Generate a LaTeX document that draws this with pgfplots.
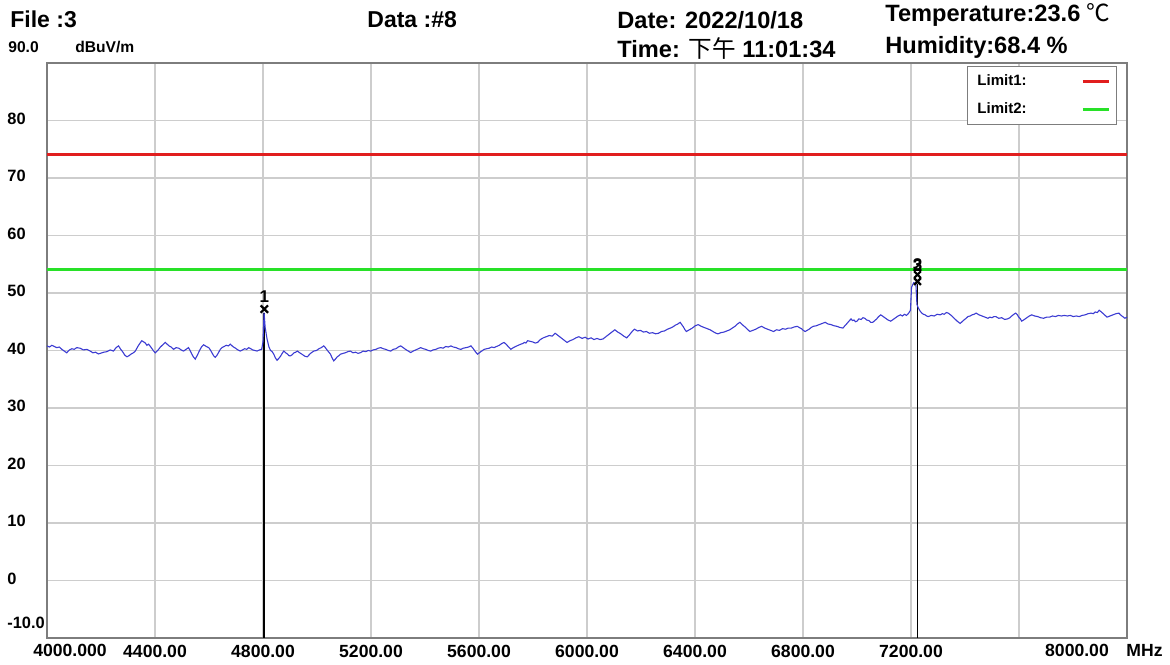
\documentclass[border=0pt]{standalone}
\usepackage{pgfplots}
\pgfplotsset{compat=1.18}
\usepackage{fontspec}
\setmainfont{Liberation Sans}
\newfontfamily\cjk{Noto Sans CJK SC}
\definecolor{trace}{RGB}{60,60,210}
\definecolor{limred}{RGB}{225,30,30}
\definecolor{limgreen}{RGB}{40,225,40}
\definecolor{gridgray}{RGB}{205,205,205}
\definecolor{framegray}{RGB}{125,125,125}
\begin{document}
\begin{tikzpicture}
\path[use as bounding box] (0,0) rectangle (585pt,332pt);
\begin{axis}[
  at={(23.5pt,13pt)}, anchor=south west,
  scale only axis, width=540pt, height=287.5pt,
  xmin=4000, xmax=8000, ymin=-10, ymax=90,
  clip=false,
  xtick={4400,4800,5200,5600,6000,6400,6800,7200,7600},
  xticklabels={4400.00,4800.00,5200.00,5600.00,6000.00,6400.00,6800.00,7200.00,{}},
  ytick={0,10,20,30,40,50,60,70,80},
  yticklabels={0,10,20,30,40,50,60,70,80},
  major tick length=0pt,
  grid=major,
  major grid style={gridgray, line width=0.7pt},
  axis line style={framegray, line width=1pt},
  xticklabel style={font=\bfseries\fontsize{8.8}{10}\selectfont, inner sep=0pt, yshift=-3.5pt},
  yticklabel style={font=\bfseries\fontsize{8.2}{10}\selectfont, inner sep=0pt, anchor=west, xshift=-20pt, yshift=1pt},
  legend plot pos=right,
  legend cell align=left,
  legend image code/.code={\draw[#1] (0pt,0pt) -- (13pt,0pt);},
  legend style={at={(0.9907,0.9948)}, anchor=north east, draw=framegray, line width=0.5pt, fill=white,
    font=\bfseries\fontsize{7.5}{9}\selectfont, inner xsep=3pt, inner ysep=2pt, row sep=3pt,
    nodes={inner sep=2pt}},
]
\addplot[limred, line width=1.5pt] coordinates {(4000,74) (8000,74)};
\addlegendentry{\makebox[50pt][l]{Limit1:}}
\addplot[limgreen, line width=1.5pt] coordinates {(4000,54) (8000,54)};
\addlegendentry{\makebox[50pt][l]{Limit2:}}
% marker verticals
\addplot[black, line width=0.9pt, forget plot] coordinates {(4805,46.5) (4805,-10)};
\addplot[black, line width=0.9pt, forget plot] coordinates {(7224,51.5) (7224,-10)};
% trace
\addplot[trace, line width=0.55pt, forget plot] coordinates {
(4000,40.8) (4009,40.6) (4018,40.9) (4027,40.7) (4036,40.5) (4046,40.6) (4055,40.2) (4064,39.9) (4073,39.6) (4083,40.1) (4092,40.3) (4101,40.2) (4110,40.5) (4122,40.4) (4135,40.1)
(4148,40.2) (4160,39.9) (4170,39.6) (4180,39.7) (4190,39.4) (4197,39.5) (4210,39.7) (4222,39.8) (4234,40.1) (4246,39.9) (4256,40.5) (4265,40.8) (4273,40.2) (4280,39.8) (4288,39.2) (4296,38.9)
(4304,39.1) (4312,39.4) (4320,39.6) (4327,39.9) (4339,40.9) (4351,41.7) (4358,41.5) (4364,41.3) (4370,40.9) (4376,41.1) (4383,40.7) (4389,40.3) (4395,39.9) (4401,39.6) (4410,40.0) (4420,40.6)
(4429,41.0) (4438,41.4) (4445,41.1) (4452,40.8) (4460,40.6) (4469,40.2) (4478,40.5) (4488,40.4) (4497,40.1) (4506,39.9) (4515,40.2) (4524,40.5) (4530,40.0) (4536,39.4) (4542,38.9) (4549,38.5)
(4557,39.2) (4565,40.0) (4572,40.6) (4580,41.0) (4590,40.7) (4599,40.5) (4605,40.1) (4611,39.6) (4617,39.1) (4623,38.8) (4630,39.2) (4636,39.7) (4642,40.2) (4648,40.5) (4656,40.7) (4664,40.9)
(4672,40.8) (4679,41.1) (4688,40.7) (4698,40.4) (4707,40.1) (4716,39.9) (4724,40.1) (4732,40.3) (4740,40.2) (4747,40.5) (4755,40.3) (4762,40.1) (4770,40.0) (4778,39.9) (4787,40.1) (4795,40.2)
(4800,41.5) (4804,46.6) (4808,44.0) (4815,42.0) (4822,40.6) (4828,40.0) (4834,39.8) (4840,39.35) (4846,38.7) (4852,38.3) (4858,38.6) (4865,39.0) (4871,39.5)
(4877,39.9) (4884,39.6) (4890,39.4) (4896,39.1) (4902,39.06) (4909,39.3) (4915,39.6) (4921,39.7) (4927,39.9) (4936,39.6) (4946,39.3) (4955,39.0) (4964,38.9) (4970,39.2) (4976,39.5) (4982,39.7)
(4988,39.9) (4998,40.0) (5007,40.3) (5016,40.5) (5025,40.8) (5031,40.5) (5037,40.1) (5044,39.7) (5050,39.35) (5056,38.7) (5062,38.2) (5068,38.5) (5075,38.9) (5081,39.1) (5087,39.35)
(5096,39.5) (5105,39.6) (5114,39.8) (5124,39.9) (5133,39.6) (5143,39.7) (5152,39.5) (5162,39.64) (5171,39.9) (5180,39.8) (5190,40.0) (5199,39.9) (5208,40.1) (5218,40.2) (5227,40.4) (5236,40.5)
(5246,40.3) (5255,40.2) (5264,40.0) (5273,39.9) (5282,40.2) (5292,40.3) (5301,40.6) (5310,40.8) (5319,40.5) (5328,40.2) (5338,39.9) (5347,39.64) (5356,39.9) (5366,40.1) (5375,40.3) (5384,40.5)
(5394,40.3) (5403,40.2) (5412,40.0) (5421,39.9) (5430,40.1) (5440,40.2) (5449,40.4) (5458,40.5) (5467,40.4) (5477,40.7) (5486,40.6) (5496,40.8) (5505,40.6) (5515,40.5) (5524,40.3) (5533,40.2)
(5542,40.4) (5552,40.5) (5561,40.6) (5570,40.8) (5576,40.5) (5582,40.1) (5588,39.7) (5595,39.35) (5601,39.6) (5607,39.8) (5613,40.0) (5619,40.2) (5628,40.3) (5638,40.4) (5647,40.6) (5656,40.5)
(5665,40.7) (5675,40.9) (5684,41.2) (5693,41.4) (5700,41.1) (5706,40.8) (5712,40.5) (5718,40.2) (5727,40.5) (5736,40.7) (5745,40.9) (5755,41.1) (5762,41.2) (5768,41.4) (5774,41.3) (5780,41.7)
(5789,41.6) (5798,41.5) (5808,41.3) (5817,41.4) (5827,41.9) (5838,42.2) (5849,42.4) (5860,42.6) (5871,42.5) (5882,43.0) (5893,42.6) (5904,42.2) (5915,41.8) (5926,41.4) (5937,41.7) (5948,41.9)
(5959,42.2) (5970,42.4) (5982,42.1) (5993,42.3) (6004,42.0) (6015,42.2) (6026,41.9) (6037,42.1) (6048,41.9) (6059,42.0) (6070,42.4) (6081,42.8) (6092,43.2) (6103,43.6) (6114,43.2) (6125,42.9)
(6136,42.5) (6147,42.2) (6155,42.6) (6162,43.0) (6169,43.4) (6176,43.7) (6187,43.4) (6198,43.5) (6209,43.2) (6220,43.3) (6231,43.0) (6243,43.1) (6254,42.9) (6265,43.0) (6276,43.3) (6287,43.4)
(6298,43.7) (6309,43.9) (6318,44.1) (6327,44.4) (6336,44.6) (6345,44.9) (6351,44.5) (6357,44.1) (6363,43.6) (6368,43.3) (6379,43.6) (6390,43.9) (6401,44.3) (6412,44.5) (6423,44.2) (6434,44.0)
(6445,43.8) (6456,43.6) (6463,43.4) (6470,43.2) (6478,43.0) (6485,42.9) (6496,43.1) (6507,43.2) (6518,43.4) (6529,43.6) (6538,43.9) (6548,44.2) (6557,44.6) (6566,44.9) (6575,44.5) (6585,44.1)
(6594,43.7) (6603,43.3) (6614,43.5) (6625,43.7) (6636,44.0) (6647,44.2) (6658,43.9) (6669,43.7) (6680,43.5) (6691,43.3) (6702,43.6) (6713,43.5) (6724,43.8) (6735,43.7) (6746,43.9) (6757,43.9)
(6768,44.1) (6779,44.2) (6786,44.0) (6794,43.8) (6801,43.5) (6808,43.3) (6815,43.5) (6823,43.7) (6830,44.0) (6838,44.2) (6849,44.3) (6860,44.5) (6871,44.7) (6882,44.9) (6893,44.6) (6904,44.5)
(6915,44.3) (6926,44.2) (6937,44.0) (6948,43.9) (6955,44.3) (6963,44.7) (6970,45.1) (6978,45.5) (6983,45.2) (6989,45.3) (6994,45.0) (7000,45.1) (7007,45.5) (7015,45.4) (7022,45.7) (7029,45.6)
(7036,45.3) (7044,45.2) (7051,44.9) (7058,44.9) (7066,45.2) (7073,45.5) (7080,45.9) (7088,46.2) (7097,45.9) (7106,45.6) (7115,45.3) (7125,45.1) (7134,45.4) (7143,45.7) (7152,46.0) (7161,46.2)
(7168,46.0) (7176,46.3) (7183,46.1) (7190,46.4) (7198,47.0) (7202,51.0) (7210,51.8) (7218,51.6) (7222,48.0) (7227,47.4) (7233,46.9)
(7240,46.5) (7246,46.3) (7252,46.2) (7258,46.0) (7264,45.9) (7275,46.1) (7286,46.0) (7297,46.3) (7308,46.2) (7316,46.4) (7323,46.3) (7331,46.6) (7338,46.5) (7349,46.1) (7360,45.6) (7371,45.1)
(7382,44.7) (7389,45.0) (7396,45.3) (7404,45.6) (7411,45.9) (7419,46.0) (7426,46.2) (7434,46.3) (7441,46.5) (7452,46.2) (7463,46.0) (7474,45.8) (7485,45.6) (7492,45.8) (7500,45.7) (7507,45.9)
(7514,45.9) (7525,45.6) (7536,45.7) (7547,45.4) (7558,45.5) (7566,45.7) (7573,46.0) (7581,46.3) (7588,46.5) (7594,46.2) (7599,45.8) (7605,45.5) (7610,45.1) (7620,45.4) (7629,45.7) (7638,46.0)
(7647,46.2) (7658,46.0) (7669,45.9) (7680,45.7) (7691,45.6) (7702,45.8) (7713,45.8) (7724,46.0) (7735,45.9) (7746,46.1) (7757,46.0) (7768,46.1) (7779,46.0) (7790,46.1) (7801,45.9) (7812,46.0)
(7823,45.9) (7834,46.1) (7845,46.2) (7856,46.4) (7867,46.5) (7875,46.4) (7882,46.7) (7890,46.6) (7897,47.0) (7905,46.7) (7912,46.4) (7919,46.1) (7926,45.8) (7937,46.0) (7948,46.2) (7959,46.4)
(7970,46.5) (7976,46.2) (7981,46.0) (7987,45.8) (7992,45.6) (8000,45.8)
};
% markers
\addplot[black, only marks, mark=x, mark size=2.6pt, line width=1.1pt, forget plot] coordinates {(4805,47.2)}
  node[above, font=\bfseries\fontsize{8.5}{9}\selectfont, inner sep=1pt, yshift=1.5pt] {1};
\addplot[black, only marks, mark=x, mark size=2.4pt, line width=1.1pt, forget plot] coordinates {(7224,53.2)}
  node[above, font=\bfseries\fontsize{8.5}{9}\selectfont, inner sep=1pt, yshift=0pt] {2};
\addplot[black, only marks, mark=x, mark size=2.4pt, line width=1.1pt, forget plot] coordinates {(7224,52.0)}
  node[above, font=\bfseries\fontsize{8.5}{9}\selectfont, inner sep=1pt, yshift=4pt] {3};
\end{axis}
% header texts
\node[anchor=base west, inner sep=0pt, font=\bfseries\fontsize{11.5}{13}\selectfont] at (5pt,318pt) {File :3};
\node[anchor=base west, inner sep=0pt, font=\bfseries\fontsize{11.5}{13}\selectfont] at (183.5pt,318pt) {Data :\#8};
\node[anchor=base west, inner sep=0pt, font=\bfseries\fontsize{11.8}{13}\selectfont] at (308.5pt,317.5pt) {Date: 2022/10/18};
\node[anchor=base west, inner sep=0pt, font=\bfseries\fontsize{11.8}{13}\selectfont] at (442.5pt,321pt) {Temperature:23.6 {\cjk\mdseries ℃}};
\node[anchor=base west, inner sep=0pt, font=\bfseries\fontsize{11.8}{13}\selectfont] at (308.5pt,303pt) {Time: {\cjk\mdseries 下午} 11:01:34};
\node[anchor=base west, inner sep=0pt, font=\bfseries\fontsize{11.8}{13}\selectfont] at (442.5pt,305pt) {Humidity:68.4 \%};
% axis side labels
\node[anchor=base west, inner sep=0pt, font=\bfseries\fontsize{7.8}{9}\selectfont] at (4pt,305.5pt) {90.0};
\node[anchor=base west, inner sep=0pt, font=\bfseries\fontsize{7.8}{9}\selectfont] at (37.5pt,305.5pt) {dBuV/m};
\node[anchor=base west, inner sep=0pt, font=\bfseries\fontsize{8.2}{10}\selectfont] at (3.5pt,18pt) {-10.0};
\node[anchor=base, inner sep=0pt, font=\bfseries\fontsize{8.8}{10}\selectfont] at (35pt,4pt) {4000.000};
\node[anchor=base, inner sep=0pt, font=\bfseries\fontsize{8.8}{10}\selectfont] at (538.5pt,4pt) {8000.00};
\node[anchor=base west, inner sep=0pt, font=\bfseries\fontsize{8.8}{10}\selectfont] at (563pt,4pt) {MHz};
\end{tikzpicture}
\end{document}
